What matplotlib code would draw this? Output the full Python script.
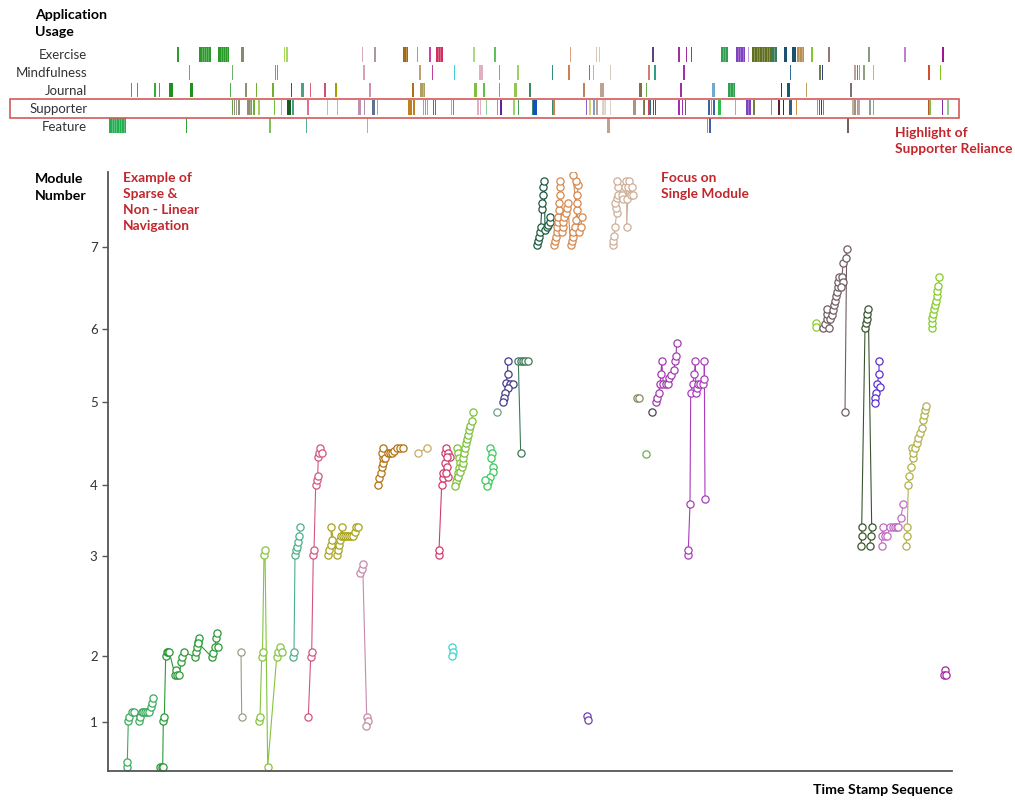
import matplotlib.pyplot as plt
from matplotlib.patches import Rectangle

plt.rcParams['font.family'] = ['Lato', 'DejaVu Sans']

# ---------------- data ----------------
rows = ['Exercise', 'Mindfulness', 'Journal', 'Supporter', 'Feature']

# app usage events per row: (time stamp, duration, module colour)
exercise = [(68.7, 2.6, '#2e9a30'), (91.3, 11.4, '#2a9a2a'), (110.3, 11, '#2a9a2a'), (133.3, 2.7, '#8a8a6a'),
            (176, 1, '#a8d860'), (178.2, 1, '#a8d860'), (253.7, 1, '#d8a8b8'), (266.3, 1, '#a89a9a'),
            (295.3, 5, '#a86a10'), (308.7, 1.3, '#b8a060'), (321.3, 1, '#d040a0'), (328, 6.7, '#d03060'),
            (365.3, 1.2, '#a8d888'), (386.3, 1.2, '#60c060'), (462, 1.2, '#e0a080'), (488, 1, '#d8c8b8'),
            (491, 1, '#d8c8b8'), (544.3, 1, '#604080'), (570.3, 1, '#a030a0'), (578, 1, '#a030a0'),
            (583, 1, '#a030a0'), (612.7, 7, '#30a050'), (627.7, 9.3, '#8040c0'), (639.7, 1.5, '#c0a0e0'),
            (643.7, 20, '#607020'), (663.7, 5, '#3a7a60'), (676, 2.7, '#1a5070'), (684.3, 3.4, '#1a5070'),
            (688.7, 7.6, '#b89050'), (703, 2.3, '#80c830'), (720.3, 1, '#907878'), (760.3, 1, '#8a9a80'),
            (796.3, 1, '#c080d0'), (834.3, 1.7, '#a01890')]
mindfulness = [(81, 1, '#60b060'), (123.7, 1, '#70b070'), (167, 1, '#60b060'), (168.7, 1, '#60b060'),
               (255.3, 1, '#d8a0b0'), (311.3, 1, '#c0a070'), (323.7, 1, '#c040a0'), (346, 1, '#40d0d0'),
               (371, 3.7, '#e0b0c0'), (391, 1.4, '#90a0a0'), (409.3, 1, '#a0d060'), (443.7, 1, '#309080'),
               (460.3, 1, '#d08050'), (481, 1, '#9060c0'), (484.7, 1, '#c0c060'), (502, 1, '#d8c8b8'),
               (540.3, 1, '#d08070'), (546.3, 1, '#30a080'), (574.7, 2.3, '#a030b0'), (682, 1, '#3070a0'),
               (711.3, 1.5, '#708040'), (713.7, 1, '#304080'), (746, 2, '#c0a090'), (748.5, 1.5, '#708050'),
               (750.5, 1.5, '#c09090'), (755.3, 1, '#90a080'), (764.7, 1.5, '#80d0b0'), (820.3, 1, '#d05030'),
               (832, 1, '#80c820')]
journal = [(22.7, 1, '#30b040'), (28.7, 1, '#30b040'), (46.3, 1.5, '#30b040'), (51, 1, '#30b040'),
           (61.3, 4, '#209020'), (82, 3.3, '#209020'), (122, 1, '#50b050'), (137, 1.7, '#909070'),
           (148, 1.3, '#70b030'), (164.3, 1.7, '#70b030'), (183, 1, '#207020'), (193, 3.3, '#50a080'),
           (202, 1, '#e06080'), (216.3, 1.7, '#d05070'), (227, 2.3, '#a0a000'), (261.3, 1, '#d090b0'),
           (304.3, 1.7, '#b07010'), (312, 5, '#b0a060'), (366.3, 2.4, '#80c040'), (375.3, 1.2, '#60c040'),
           (391, 1, '#909a90'), (406, 2.7, '#90c850'), (421.3, 1.4, '#3a8a60'), (474.7, 2.3, '#c08060'),
           (492, 4, '#c0a090'), (531.3, 2.4, '#807050'), (538, 1, '#60b040'), (572, 1.7, '#a030a0'),
           (604, 3, '#70a8d0'), (619.7, 7.3, '#30a050'), (672.7, 1.3, '#5a2830'), (679.3, 2.7, '#1a5a70'),
           (698, 1.3, '#c0a060'), (742, 2.3, '#807070')]
supporter = [(123.7, 1.2, '#60a040'), (125.5, 1.5, '#909080'), (127.5, 1.5, '#a0a090'), (129.5, 2, '#909080'),
             (139.3, 5, '#909070'), (144.7, 2.6, '#70b030'), (150.3, 1, '#a0d060'), (166, 1, '#70c040'),
             (172.7, 1, '#a0d060'), (179.3, 3.4, '#1a5a20'), (184.3, 1.2, '#40a080'), (199.3, 1, '#e07090'),
             (218.7, 1, '#c8c870'), (228.7, 1, '#c0c070'), (250.3, 1, '#c090b0'), (252, 1, '#c090b0'),
             (256, 1, '#b090a8'), (263.7, 3.3, '#607090'), (268.7, 1, '#c0a070'), (300.3, 1, '#c08020'),
             (302.3, 1, '#c08020'), (304.5, 1, '#c08020'), (306, 1, '#c08020'), (314.7, 1, '#c0a070'),
             (317, 1, '#d080b0'), (318.7, 1, '#c0a070'), (324.7, 1, '#c04080'), (327, 1, '#c04080'),
             (342.7, 1, '#60d0c0'), (344.7, 1, '#50a090'), (369.3, 1, '#e0b0c0'), (372, 1, '#e0b0c0'),
             (377.7, 1, '#90d090'), (388.7, 1, '#90a090'), (392, 1.7, '#6020a0'), (405.3, 1, '#a0d060'),
             (409.7, 1, '#40a060'), (423.7, 1, '#3a8a70'), (425.3, 3.4, '#1050c0'), (443.7, 1, '#3a8a70'),
             (445.3, 1, '#d08050'), (478, 1, '#9060c0'), (481.3, 1, '#d0d080'), (485.3, 1.5, '#80a0c0'),
             (487.5, 2.8, '#c0a090'), (493.7, 4.3, '#e0d0c8'), (502, 1, '#e0d0c8'), (524.7, 3, '#b09080'),
             (534.7, 1, '#60a040'), (536, 1, '#807040'), (540.3, 1, '#d04060'), (542, 1, '#307070'),
             (544.7, 1, '#6040a0'), (547, 1, '#6040a0'), (570.3, 1, '#a030b0'), (573.7, 1, '#a030b0'),
             (577, 1, '#a030b0'), (600.3, 1, '#4060a0'), (602.7, 1, '#70a0d0'), (605.3, 1, '#4060a0'),
             (610.3, 2.7, '#30c050'), (627, 1, '#b0a0e0'), (637.7, 5.3, '#8040c0'), (645.3, 1, '#708040'),
             (662.7, 1, '#70a090'), (670.3, 1, '#602030'), (674.7, 1, '#303040'), (681.3, 1, '#306080'),
             (683, 1, '#306080'), (688, 1, '#d09040'), (708.7, 1.3, '#80c020'), (710.5, 1, '#607040'),
             (712.7, 1, '#404040'), (714.7, 1, '#808080'), (743.7, 2, '#c0b0a0'), (746, 2, '#a09080'),
             (748.5, 1.5, '#c09090'), (750.3, 1.4, '#c0a0a0'), (761.3, 1, '#90a090'), (764.7, 1.5, '#a090e0'),
             (819.7, 1, '#c05030'), (821.3, 1, '#80c040'), (833.7, 1, '#8030a0'), (839.3, 1, '#90c890')]
feature = [(1.3, 16.7, '#20b050'), (77.7, 1.6, '#30a030'), (161.3, 1, '#80c060'), (198, 1, '#50b090'),
           (258.7, 1, '#d0a0b0'), (498.7, 3.3, '#c0a090'), (598.7, 1, '#a080d0'), (601.3, 1, '#4060a0'),
           (738.7, 2.6, '#706060')]
usage = [exercise, mindfulness, journal, supporter, feature]

# module tick positions on the content-position axis
module_ticks = [49, 115, 215, 286, 369, 442, 524]
module_labels = ['1', '2', '3', '4', '5', '6', '7']

# navigation paths: (colour, time stamps, content position)
paths = [
    ('#3aaa5c', [18.7, 19.3, 20.3, 21.3, 23.7, 26, 31.3, 32, 33.7, 35, 37, 39, 41, 42.7, 44.3, 45.3],
     [4, 9, 50, 54, 59, 59, 50, 54, 59, 59, 59, 59, 59, 64, 68, 73]),
    ('#2a9a35', [52, 53.7, 54.7, 55.3, 56.3, 57.7, 58.7, 60.3, 61.3, 67, 68, 69.3, 71.3, 73, 74.3, 76,
                 87, 88, 88.7, 89.7, 91.3, 90.3, 103.7, 105.3, 107, 108, 108.7, 110.3],
     [4, 4, 4, 50, 54, 115, 119, 119, 119, 96, 101, 96, 96, 109, 114, 119,
      114, 119, 124, 129, 133, 128, 114, 118, 124, 133, 138, 124]),
    ('#9c9c86', [133, 133.7], [119, 54]),
    ('#86c440', [151.3, 152, 153.7, 154.5, 156, 157, 159.7, 168.7, 170.3, 172, 174.3],
     [50, 54, 114, 119, 216, 221, 4, 114, 119, 124, 119]),
    ('#4caf8a', [185.3, 186, 187, 188, 189.3, 190.3, 191.3, 192], [114, 119, 216, 221, 224, 229, 235, 244]),
    ('#d2557f', [200.3, 202.7, 203.7, 205.3, 206, 207.7, 208.7, 209.7, 210.3, 211.3, 212, 213.7],
     [54, 114, 119, 216, 221, 286, 291, 295, 314, 318, 323, 318]),
    ('#a8a21c', [220.3, 221.3, 222.7, 223.7, 222.7, 229.3, 230.3, 231.3, 232, 232.7, 233.7,
                 235, 237, 239, 241, 243, 245.3, 247, 248, 249.7],
     [216, 221, 226, 231, 244, 216, 221, 226, 231, 235, 244,
      235, 235, 235, 235, 235, 235, 239, 244, 244]),
    ('#c78aaa', [252, 253.7, 254.7, 258.7, 259.7, 258], [198, 202, 207, 54, 50, 45]),
    ('#b2720f', [270.3, 271.3, 272.7, 273.7, 275.3, 274.7, 273.7, 274.7, 277, 280.3, 282, 283.7,
                 286, 288.7, 292, 294.7],
     [286, 293, 298, 304, 308, 313, 318, 323, 313, 318, 318, 318, 320, 323, 323, 323]),
    ('#c8aa68', [310.3, 318.7], [318, 323]),
    ('#cf3c6c', [331, 331, 333.7, 334.7, 335.3, 337, 337, 338, 340.3, 342, 339.3, 339.3, 340.3, 338],
     [216, 221, 286, 293, 298, 308, 318, 323, 318, 314, 314, 304, 294, 298]),
    ('#7cc03a', [349.3, 350.3, 351, 351.5, 351, 350, 349, 348, 347, 350.3, 352, 353.7, 354.7, 355.3,
                 356, 357, 358, 359.3, 360.3, 361.3, 362, 363.7, 364.7],
     [323, 318, 313, 308, 303, 298, 293, 289, 285, 294, 299, 304, 308, 313,
      318, 323, 328, 332, 336, 341, 345, 350, 359]),
    ('#3cd5cc', [343.7, 344.7, 343.7], [124, 119, 115]),
    ('#3cc85c', [382, 383.7, 382.7, 385.3, 384.7, 382, 380.3, 379.3, 377],
     [323, 318, 313, 304, 299, 294, 289, 285, 291]),
    ('#6f9e8c', [389.3], [359]),
    ('#433a8c', [399.7, 399.7, 398, 402, 404.7, 400.3, 397, 396, 395.3],
     [410, 397, 388, 387, 387, 383, 378, 373, 369]),
    ('#3e7a58', [412.7, 410.3, 412.5, 414.7, 417, 420.3], [318, 410, 410, 410, 410, 410]),
    ('#1f5a40', [428.7, 429.7, 431, 432, 432.7, 433.7, 434.3, 434.7, 435.3, 436.3, 437, 438.7, 440.3, 442, 442],
     [526, 530, 534, 539, 544, 562, 568, 576, 584, 590, 541, 544, 546, 549, 554]),
    ('#d4884e', [446, 447, 448, 448.7, 449.3, 450.3, 450.3, 451.3, 451.3, 452, 452, 452,
                 453.7, 454.7, 455.3, 456.3, 458, 459.3, 459.7,
                 462.7, 463.7, 464.7, 465.3, 467, 468, 468.7, 468.7, 469.3, 470.3, 468, 464.7,
                 471.3, 473, 473.7],
     [526, 530, 534, 539, 544, 549, 554, 561, 568, 576, 584, 590,
      539, 544, 549, 554, 558, 563, 568,
      526, 530, 534, 539, 544, 551, 561, 568, 576, 586, 590, 596,
      539, 544, 554]),
    ('#cfae98', [504.7, 505.3, 506, 507, 508.7, 508, 507, 508.7, 510.3, 510.3, 509.3, 513.7, 515.3,
                 517, 518, 518.7, 518.7, 520.3, 521.3, 522.7, 524.7, 523.7],
     [526, 530, 535, 544, 558, 563, 568, 573, 576, 584, 590, 576, 572,
      584, 590, 572, 544, 584, 590, 576, 576, 584]),
    ('#8b875e', [529.3, 531.3], [373, 373]),
    ('#6bb04a', [537.7], [317]),
    ('#4b3f5c', [544.3], [359]),
    ('#a23bb0', [548, 549.3, 550.7, 552, 553, 553.7, 555.3, 558, 560.3, 561.3, 562.7, 566, 567, 568, 568.7],
     [369, 373, 378, 387, 397, 410, 387, 387, 387, 393, 396, 401, 410, 415, 428]),
    ('#a83cba', [580.3, 580.3, 582, 582.7, 584.7, 586.3, 587.3, 588, 589.3, 590.3, 592, 595.3, 596.3, 596.3, 597],
     [216, 221, 267, 378, 387, 397, 410, 378, 383, 387, 387, 387, 392, 410, 272]),
    ('#7040b0', [479, 480], [55, 51]),
    ('#8ccc2e', [707.7, 707.7], [448, 444]),
    ('#6f5d63', [715.3, 717, 718.7, 719.3, 719.3, 722, 721.3, 723.7, 724.7, 726, 727, 728, 728.7, 729.7,
                 730.3, 731.3, 733.7, 734.7, 732.7, 735.3, 738, 738.7, 737],
     [443, 447, 452, 457, 462, 452, 443, 456, 461, 466, 470, 475, 479, 484,
      489, 494, 494, 489, 484, 508, 513, 522, 359]),
    ('#3b5430', [753, 753.7, 753.7, 757, 758, 758.7, 759.3, 760.3, 763.7, 762.7, 762],
     [225, 235, 244, 443, 448, 452, 457, 462, 244, 235, 225]),
    ('#5a30d0', [771, 771, 769.3, 772, 768, 767, 767], [410, 397, 387, 384, 378, 373, 368]),
    ('#c06cc0', [773.7, 773.7, 774.7, 777, 779.3, 782, 785.3, 787, 788.7, 790.3, 792.7, 795.3],
     [225, 235, 244, 235, 235, 244, 244, 244, 244, 244, 253, 267]),
    ('#b2b04a', [798, 798.7, 799.3, 800.3, 801.3, 802.7, 804.7, 803.7, 805.3, 807, 808.7, 810.3, 812,
                 813.7, 814.7, 816, 817, 818],
     [225, 235, 244, 286, 295, 304, 313, 323, 318, 323, 328, 333, 338, 343, 351, 356, 361, 365]),
    ('#84cc24', [823.7, 823.7, 824.3, 825.3, 826, 827, 827.7, 828.7, 829.3, 830.3, 831.3],
     [443, 448, 453, 457, 462, 466, 470, 475, 480, 485, 494]),
    ('#a3289f', [837, 836, 837.7], [101, 96, 96]),
]

# ---------------- figure ----------------
W, H = 1015, 800
fig = plt.figure(figsize=(W / 100, H / 100), dpi=100)

bold = dict(fontweight='bold', fontsize=10.2, color='black')
red = dict(fontweight='bold', fontsize=9.9, color='#c1272d', linespacing=1.4, va='top')

# top panel: application usage strips
ax_top = fig.add_axes([108 / W, 1 - 134.5 / H, 844 / W, 89 / H])
for i, events in enumerate(usage):
    for t, w, c in events:
        w = max(w, 1.4)
        ax_top.bar(t, 0.84, width=w, bottom=i - 0.42, align='edge', color=c, linewidth=0)
        if w > 4:  # striped look for long sessions
            n = int(round(w / 2.4))
            for k in range(1, n):
                ax_top.vlines(t + k * w / n, i - 0.42, i + 0.42, color='white', lw=0.4, alpha=0.45)
ax_top.set_xlim(0, 844)
ax_top.set_ylim(4.5, -0.5)
ax_top.set_xticks([])
ax_top.set_yticks(range(len(rows)))
ax_top.set_yticklabels(rows, fontsize=9.5, color='#333333')
ax_top.tick_params(axis='y', length=0, pad=15)
for s in ax_top.spines.values():
    s.set_visible(False)
ax_top.patch.set_alpha(0)

# supporter highlight box
fig.patches.append(Rectangle((10 / W, 1 - 117.7 / H), 949 / W, 18.7 / H, transform=fig.transFigure,
                             fill=False, edgecolor='#d35a5a', linewidth=1.2))

# main panel: module navigation
ax = fig.add_axes([108 / W, 29 / H, 844 / W, 599 / H])
for c, ts, ys in paths:
    ax.plot(ts, ys, color=c, lw=0.8, marker='o', ms=5.2, mfc='white', mec=c, mew=0.9, zorder=2)
ax.set_xlim(0, 844)
ax.set_ylim(0, 599)
ax.set_xticks([])
ax.set_yticks(module_ticks)
ax.set_yticklabels(module_labels, fontsize=9.5, color='#333333')
ax.tick_params(axis='y', direction='out', length=4.5, width=1, color='#555555', pad=3)
for side in ['top', 'right']:
    ax.spines[side].set_visible(False)
for side in ['left', 'bottom']:
    ax.spines[side].set_color('#555555')
    ax.spines[side].set_linewidth(1.3)

# text
fig.text(35 / W, 1 - 9 / H, 'Application\nUsage', va='top', ha='left', linespacing=1.45, **bold)
fig.text(35 / W, 1 - 173 / H, 'Module\nNumber', va='top', ha='left', linespacing=1.45, **bold)
fig.text(953 / W, 1 - 790 / H, 'Time Stamp Sequence', va='center', ha='right', **bold)
fig.text(123 / W, 1 - 172 / H, 'Example of\nSparse &\nNon - Linear\nNavigation', ha='left', **red)
fig.text(661 / W, 1 - 172 / H, 'Focus on\nSingle Module', ha='left', **red)
fig.text(895 / W, 1 - 127 / H, 'Highlight of\nSupporter Reliance', ha='left', **red)

fig.savefig('out.png', dpi=100)
